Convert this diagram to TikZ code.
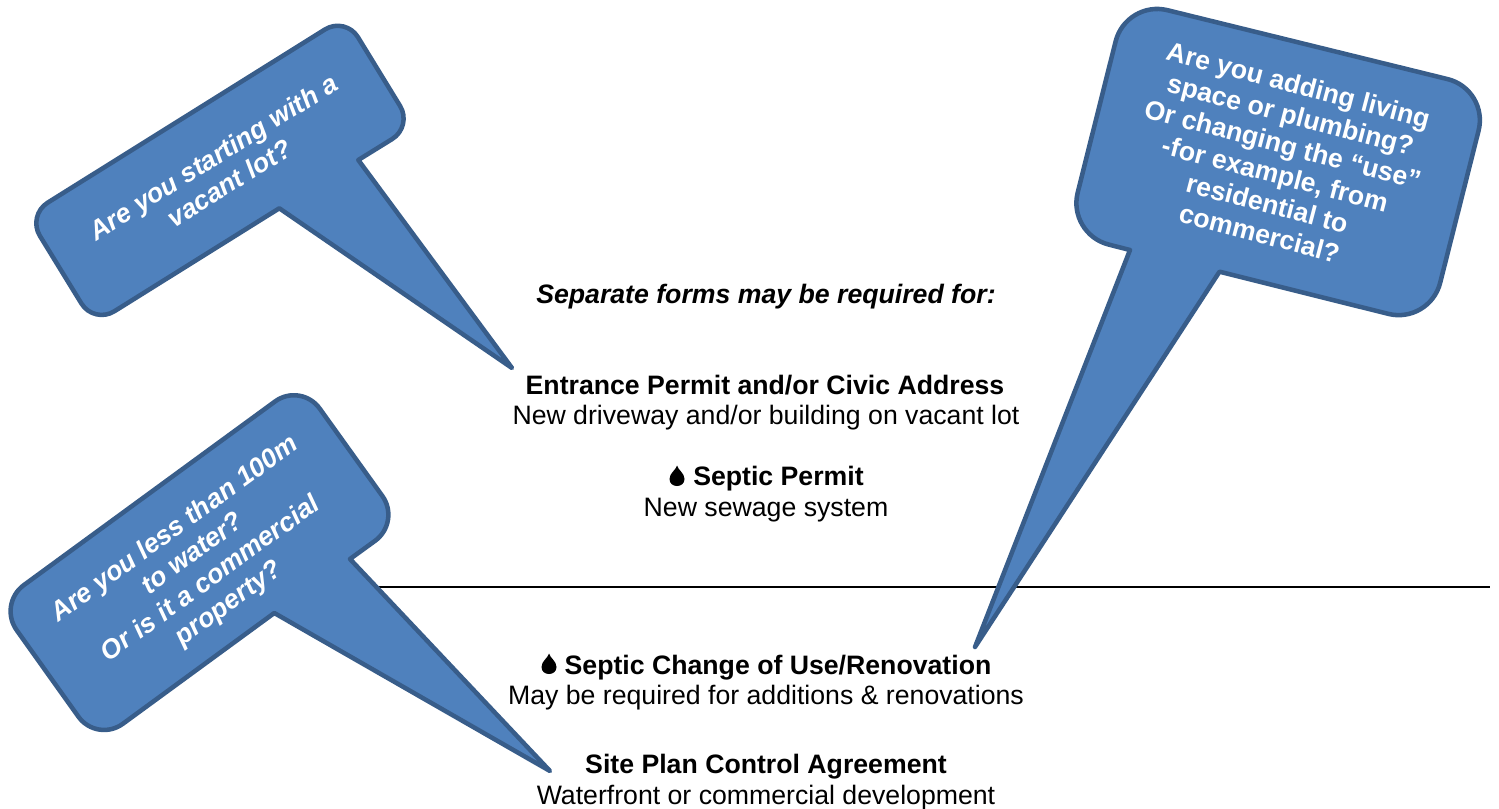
\documentclass[tikz,border=0pt]{standalone}
\usepackage{fontspec}
\setmainfont{Liberation Sans}
\definecolor{bubblefill}{HTML}{4F81BD}
\definecolor{bubbleline}{HTML}{385D8A}
\tikzset{
  bubble/.style={draw=bubbleline,fill=bubblefill,line width=3.4pt,line join=round},
  bubbletext/.style={text=white,align=center,inner sep=0pt,font=\fontsize{20pt}{23pt}\selectfont\bfseries\itshape},
  bubbleupright/.style={text=white,align=center,inner sep=0pt,font=\fontsize{20pt}{23pt}\selectfont\bfseries},
  headtext/.style={anchor=base,inner sep=0pt,font=\fontsize{20pt}{23pt}\selectfont\bfseries},
  headitalic/.style={anchor=base,inner sep=0pt,font=\fontsize{20pt}{23pt}\selectfont\bfseries\itshape},
  bodytext/.style={anchor=base,inner sep=0pt,font=\fontsize{20pt}{23pt}\selectfont},
  dropmark/.pic={\fill[black] (0,-10.5) .. controls (1,-6) and (7.5,-3) .. (7.5,3) .. controls (7.5,7.5) and (4,10) .. (0,10) .. controls (-4,10) and (-7.5,7.5) .. (-7.5,3) .. controls (-7.5,-3) and (-1,-6) .. (0,-10.5) -- cycle;}
}
\begin{document}
\begin{tikzpicture}[x=0.75pt,y=-0.75pt]
\useasboundingbox (0,0) rectangle (1499,809);
\coordinate (ruleA) at (360,587);
\coordinate (ruleB) at (1490,587);
\draw[black,line width=1.5pt] (ruleA) -- (ruleB);

\node[headitalic] (sep) at (766,303.7) {Separate forms may be required for:};
\node[headtext] (ent) at (765,394.7) {Entrance Permit and/or Civic Address};
\node[bodytext] (entb) at (766,424.7) {New driveway and/or building on vacant lot};
\node[headtext] (sp) at (778.5,485.7) {Septic Permit};
\node[bodytext] (spb) at (766,516.7) {New sewage system};
\node[headtext] (sc) at (778,674.7) {Septic Change of Use/Renovation};
\node[bodytext] (scb) at (766,704.7) {May be required for additions \& renovations};
\node[headtext] (sa) at (766,773.7) {Site Plan Control Agreement};
\node[bodytext] (sab) at (766,804.7) {Waterfront or commercial development};
\pic at (677,476) {dropmark};
\pic at (549,664) {dropmark};

% top-left callout
\coordinate (a0) at (512,368);
\coordinate (a1) at (279.3,208.3);
\coordinate (a2) at (94,324);
\coordinate (a3) at (27.3,215.4);
\coordinate (a4) at (345.4,16.7);
\coordinate (a5) at (412.6,126.4);
\coordinate (a6) at (358.3,160);
\draw[bubble] (a0) -- (a1) [rounded corners=18pt] -- (a2) -- (a3) -- (a4) -- (a5) [sharp corners] -- (a6) -- cycle;
\node[bubbletext,rotate=32] (at) at (221,170) {Are you starting with a\\vacant lot?};

% bottom-left callout
\coordinate (b0) at (550,771);
\coordinate (b1) at (274.3,613);
\coordinate (b2) at (97,742.7);
\coordinate (b3) at (-2,604);
\coordinate (b4) at (301,382.5);
\coordinate (b5) at (401,522);
\coordinate (b6) at (350,559);
\draw[bubble] (b0) -- (b1) [rounded corners=24pt] -- (b2) -- (b3) -- (b4) -- (b5) [sharp corners] -- (b6) -- cycle;
\node[bubbletext,rotate=36] (bt) at (202,567) {Are you less than 100m\\to water?\\Or is it a commercial\\property?};

% right callout
\coordinate (c0) at (975,647);
\coordinate (c1) at (1130,250);
\coordinate (c2) at (1067.3,234);
\coordinate (c3) at (1126,0);
\coordinate (c4) at (1489,89.3);
\coordinate (c5) at (1429.7,324.2);
\coordinate (c6) at (1219.5,271.7);
\draw[bubble] (c0) -- (c1) [rounded corners=32pt] -- (c2) -- (c3) -- (c4) -- (c5) [sharp corners] -- (c6) -- cycle;
\node[bubbleupright,rotate=-14.7] (ct) at (1279,159) {Are you adding living\\space or plumbing?\\Or changing the “use”\\-for example, from\\residential to\\commercial?};
\end{tikzpicture}
\end{document}
